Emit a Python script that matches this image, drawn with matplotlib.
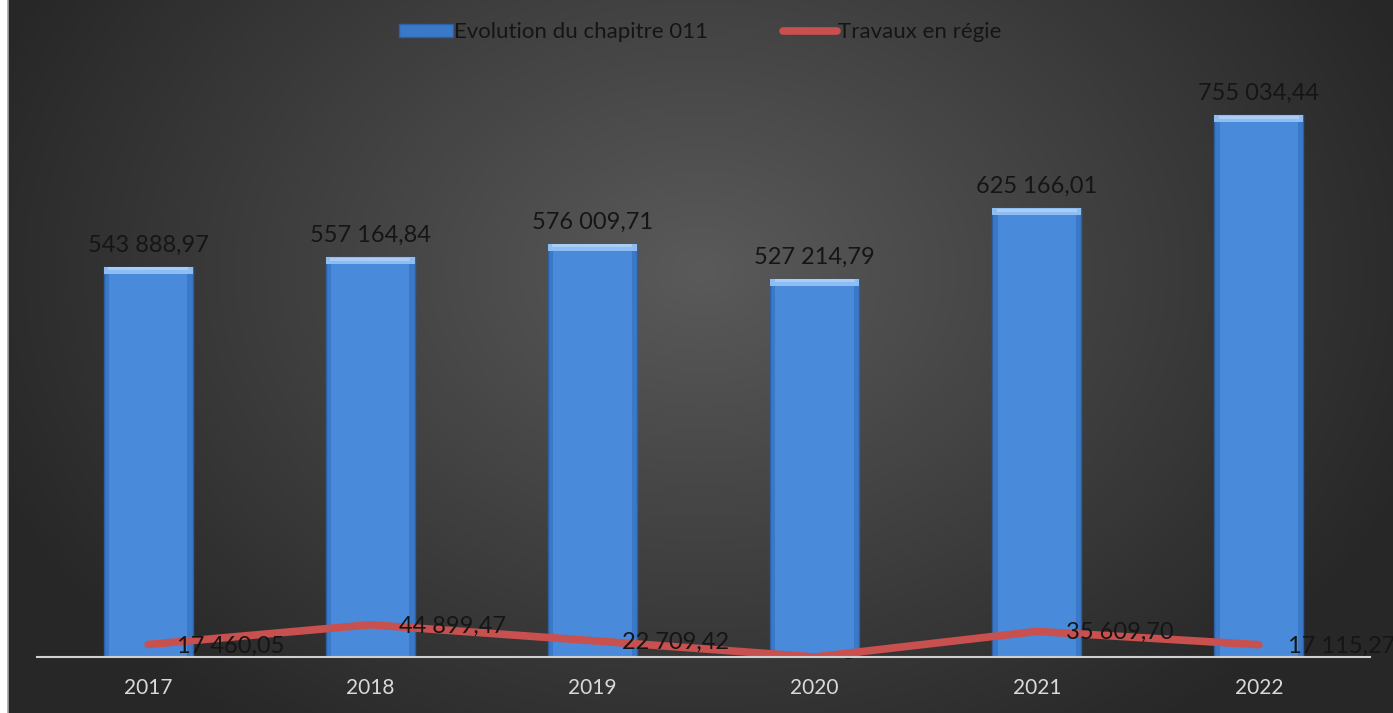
import numpy as np
import matplotlib
matplotlib.use("Agg")
import matplotlib.pyplot as plt

years = ["2017", "2018", "2019", "2020", "2021", "2022"]
chapitre_011 = [543888.97, 557164.84, 576009.71, 527214.79, 625166.01, 755034.44]
travaux_regie = [17460.05, 44899.47, 22709.42, 0.0, 35609.70, 17115.27]
bar_labels = ["543 888,97", "557 164,84", "576 009,71", "527 214,79", "625 166,01", "755 034,44"]
line_labels = ["17 460,05", "44 899,47", "22 709,42", "-", "35 609,70", "17 115,27"]
series_names = ["Evolution du chapitre 011", "Travaux en régie"]

plt.rcParams['font.family'] = ['Lato', 'DejaVu Sans']

W, H = 1393, 713
fig = plt.figure(figsize=(W / 100, H / 100), dpi=100)
fig.patch.set_facecolor('white')

# background radial gradient
bg = fig.add_axes([8 / W, 0, 1 - 8 / W, 1])
yy, xx = np.mgrid[0:H, 0:W - 8]
cx, cy = (W - 8) * 0.5, H * 0.38
r = np.sqrt(((xx - cx) / (W * 0.55)) ** 2 + ((yy - cy) / (H * 0.8)) ** 2)
r = np.clip(r, 0, 1)
c_in = np.array([0x5a, 0x5a, 0x5a]) / 255
c_out = np.array([0x27, 0x27, 0x27]) / 255
img = c_in[None, None, :] * (1 - r[..., None]) + c_out[None, None, :] * r[..., None]
bg.imshow(img, aspect='auto', extent=[0, 1, 0, 1], origin='upper')
bg.axis('off')
fig.add_artist(plt.Line2D([8 / W, 8 / W], [0, 1], color='#a6a6a6', lw=1.2))

left, right = 37 / W, 1370 / W
bottom = 1 - 657 / H
ymax = 800000
ppu = (657 - 115) / 755034.44
top_px = 657 - ymax * ppu
ax = fig.add_axes([left, bottom, right - left, (657 - top_px) / H])
ax.set_facecolor('none')
x = np.arange(len(years))
ax.set_xlim(-0.5, len(years) - 0.5)
ax.set_ylim(0, ymax)

bw = 0.4
vals = np.array(chapitre_011)
bars = ax.bar(x, chapitre_011, width=bw, color='#3a78c8', edgecolor='#2d5fa3',
              linewidth=1.0, zorder=2, label=series_names[0])
ax.bar(x, chapitre_011, width=bw * 0.88, color='#4a8ada', edgecolor='none', zorder=2.5)
bevel_h = 7 / ppu
ax.bar(x, [bevel_h] * len(x), width=bw, bottom=vals - bevel_h,
       color='#8ebdf2', edgecolor='none', zorder=3)
ax.bar(x, [bevel_h * 0.45] * len(x), width=bw * 0.9, bottom=vals - bevel_h * 0.55,
       color='#a9cdf6', edgecolor='none', zorder=3.1)

line, = ax.plot(x, travaux_regie, color='#c8504e', lw=5.5, solid_capstyle='round',
                zorder=4, label=series_names[1])

for xi, v, t in zip(x, chapitre_011, bar_labels):
    ax.annotate(t, (xi, v), xytext=(0, 8), textcoords='offset points',
                ha='center', va='bottom', fontsize=17, color='#151515', zorder=5)
for xi, v, t in zip(x, travaux_regie, line_labels):
    ax.annotate(t, (xi, v), xytext=(21, -1), textcoords='offset points',
                ha='left', va='center', fontsize=17, color='#151515', zorder=5)

for s in ['top', 'right', 'left']:
    ax.spines[s].set_visible(False)
ax.spines['bottom'].set_color('#d0d0d0')
ax.spines['bottom'].set_linewidth(1.5)
ax.spines['bottom'].set_zorder(6)
ax.set_yticks([])
ax.set_xticks(x)
ax.set_xticklabels(years, fontsize=15, color='#d9d9d9')
ax.tick_params(axis='x', length=0, pad=15)

leg = fig.legend(handles=[bars, line], labels=series_names, loc='upper center',
                 bbox_to_anchor=(0.5027, 0.997), ncol=2, frameon=False, fontsize=16,
                 handlelength=2.4, handleheight=0.5, handletextpad=0.05, columnspacing=3.4)
for t in leg.get_texts():
    t.set_color('#151515')

fig.savefig('out.png', dpi=100)
